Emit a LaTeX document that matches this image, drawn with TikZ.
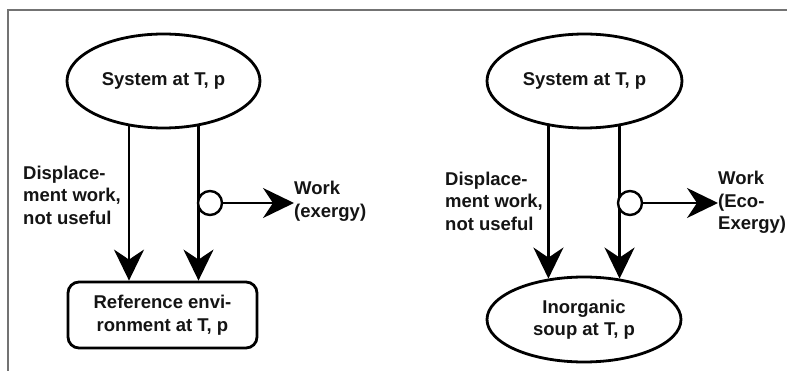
\documentclass[tikz,border=0pt]{standalone}
\usepackage{fontspec}
\setmainfont{Liberation Sans}
\usetikzlibrary{shapes.geometric,arrows.meta,backgrounds}
\tikzset{
  lbl/.style={font=\fontsize{18.5}{22.5}\selectfont\bfseries, text=black!92, inner sep=0pt},
  ell/.style={ellipse, draw, line width=2.8pt, fill=white, inner sep=0pt, lbl},
  rbox/.style={rectangle, rounded corners=11pt, draw, line width=2.8pt, fill=white, inner sep=0pt, lbl, align=center},
  flow/.style={line width=2.4pt, -{Stealth[length=31pt, width=30pt, inset=10pt]}},
  tap/.style={circle, draw, line width=2.4pt, fill=white, minimum size=24pt, inner sep=0pt},
  frame/.style={draw=black!55, line width=1.2pt}
}
\begin{document}
\begin{tikzpicture}[x=1pt, y=-1pt]
\useasboundingbox (0,0) rectangle (787,371);
\clip (0,0) rectangle (787,371);
\draw[frame] (8,371) -- (8,10) -- (787,10);

% ---- left diagram ----
\node[ell, minimum width=193pt, minimum height=94pt] (sysL) at (163.5,81) {System at T, p};
\node[rbox, minimum width=189pt, minimum height=66pt] (refL) at (162.5,315) {Reference envi-\\ronment at T, p};
\coordinate (xL1) at (129,0);
\coordinate (xL2) at (198.5,0);
\node[lbl, anchor=west, align=left] (dispL) at (23,195) {Displace-\\ment work,\\not useful};
\node[tap] (cL) at (210,203) {};
\node[lbl, anchor=west, align=left] (wL) at (294,201.5) {Work\\(exergy)};
\draw[flow] (cL.east) -- (wL.west |- cL.center);

% ---- right diagram ----
\node[ell, minimum width=195pt, minimum height=94pt] (sysR) at (584.5,81) {System at T, p};
\node[ell, minimum width=194pt, minimum height=85pt, align=center] (soupR) at (584,319.5) {Inorganic\\soup at T, p};
\node[lbl, anchor=west, align=left] (dispR) at (445,201) {Displace-\\ment work,\\not useful};
\node[tap] (cR) at (630,203) {};
\node[lbl, anchor=west, align=left] (wR) at (718,202.5) {Work\\(Eco-\\Exergy)};
\draw[flow] (cR.east) -- (wR.west |- cR.center);

\begin{scope}[on background layer]
\fill[white] (0,0) rectangle (787,371);
\draw[flow] (sysL.center -| xL1) -- (refL.north -| xL1);
\draw[flow] (sysL.center -| xL2) -- (refL.north -| xL2);
\draw[flow] (soupR.131.5 |- sysR.center) -- (soupR.131.5);
\draw[flow] (soupR.49 |- sysR.center) -- (soupR.49);
\end{scope}
\end{tikzpicture}
\end{document}
